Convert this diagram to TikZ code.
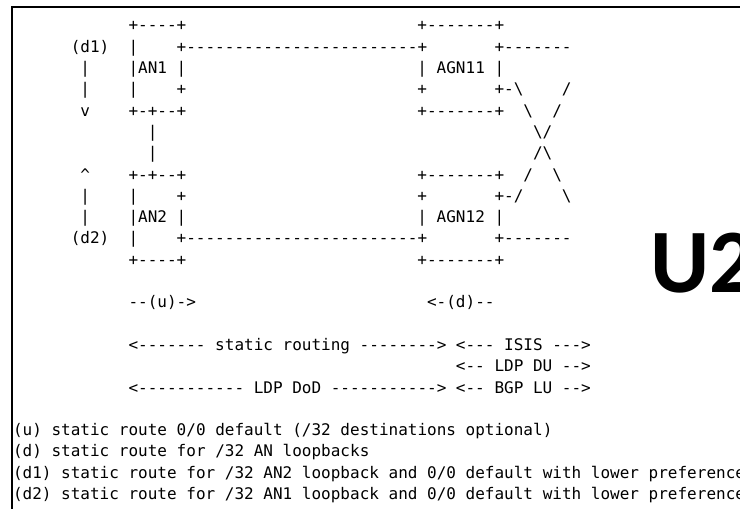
\documentclass[tikz,border=0pt]{standalone}
\usepackage{fontspec}
\setmonofont{DejaVu Sans Mono}
\newfontfamily\bigfont{Carlito}

\begin{document}
\begin{tikzpicture}
[asciiDecorate/.style={anchor=base west,inner sep=0pt,outer sep=0pt,
   font=\ttfamily\fontsize{12}{16}\selectfont},%
  frameDecorate/.style={line width=2pt},%
  titleDecorate/.style={anchor=base west,inner sep=0pt,outer sep=0pt,
   font=\bigfont\bfseries\fontsize{68}{68}\selectfont},%
  x=0.75pt,y=-0.75pt]
\useasboundingbox (0,0) rectangle (740,509);
%% frame
\coordinate (frameBottom) at (12,509);
\coordinate (frameCorner) at (12,7);
\coordinate (frameRight) at (740,7);
\draw[frameDecorate] (frameBottom) -- (frameCorner) -- (frameRight);
%% ascii rows: name/column/row/text
\foreach \nodename/\col/\row/\txt in {
  an1Top/12/0/{+----+}, agn11Top/42/0/{+-------+},
  d1Label/6/1/{(d1)}, an1SideA/12/1/{|},
  linkTop/17/1/{+------------------------+}, agn11OutA/50/1/{+-------},
  d1BarA/7/2/{|}, an1Name/12/2/{|AN1 |}, agn11Name/42/2/{| AGN11 |},
  d1BarB/7/3/{|}, an1SideB/12/3/{|}, an1Port/17/3/{+}, agn11Port/42/3/{+},
  agn11OutB/50/3/{+-\textbackslash}, crossA/57/3/{/},
  d1Arrow/7/4/{v}, an1Bottom/12/4/{+-+--+}, agn11Bottom/42/4/{+-------+},
  crossB/53/4/{\textbackslash}, crossC/56/4/{/},
  ringA/14/5/{|}, crossD/54/5/{\textbackslash/},
  ringB/14/6/{|}, crossE/54/6/{/\textbackslash},
  d2Arrow/7/7/{\textasciicircum}, an2Top/12/7/{+-+--+},
  agn12Top/42/7/{+-------+}, crossF/53/7/{/}, crossG/56/7/{\textbackslash},
  d2BarA/7/8/{|}, an2SideA/12/8/{|}, an2Port/17/8/{+}, agn12Port/42/8/{+},
  agn12OutA/50/8/{+-/}, crossH/57/8/{\textbackslash},
  d2BarB/7/9/{|}, an2Name/12/9/{|AN2 |}, agn12Name/42/9/{| AGN12 |},
  d2Label/6/10/{(d2)}, an2SideB/12/10/{|},
  linkBottom/17/10/{+------------------------+}, agn12OutB/50/10/{+-------},
  an2Bottom/12/11/{+----+}, agn12Bottom/42/11/{+-------+},
  upRoute/12/13/{--(u)->}, downRoute/43/13/{<-(d)--},
  staticSpan/12/15/{<------- static routing -------->},
  isisSpan/46/15/{<--- ISIS --->},
  ldpDuSpan/46/16/{<-- LDP DU -->},
  ldpDodSpan/12/17/{<----------- LDP DoD ----------->},
  bgpLuSpan/46/17/{<-- BGP LU -->},
  noteU/0/19/{(u) static route 0/0 default (/32 destinations optional)},
  noteD/0/20/{(d) static route for /32 AN loopbacks},
  noteDone/0/21/{(d1) static route for /32 AN2 loopback and 0/0 default with lower preference},
  noteDtwo/0/22/{(d2) static route for /32 AN1 loopback and 0/0 default with lower preference}}
{
  \node (\nodename) at ({13+9.63*\col},{31+21.3*\row}) [asciiDecorate] {\txt};
}
%% big label
\node (u2Label) at (650,293) [titleDecorate] {U2};
\end{tikzpicture}
\end{document}
